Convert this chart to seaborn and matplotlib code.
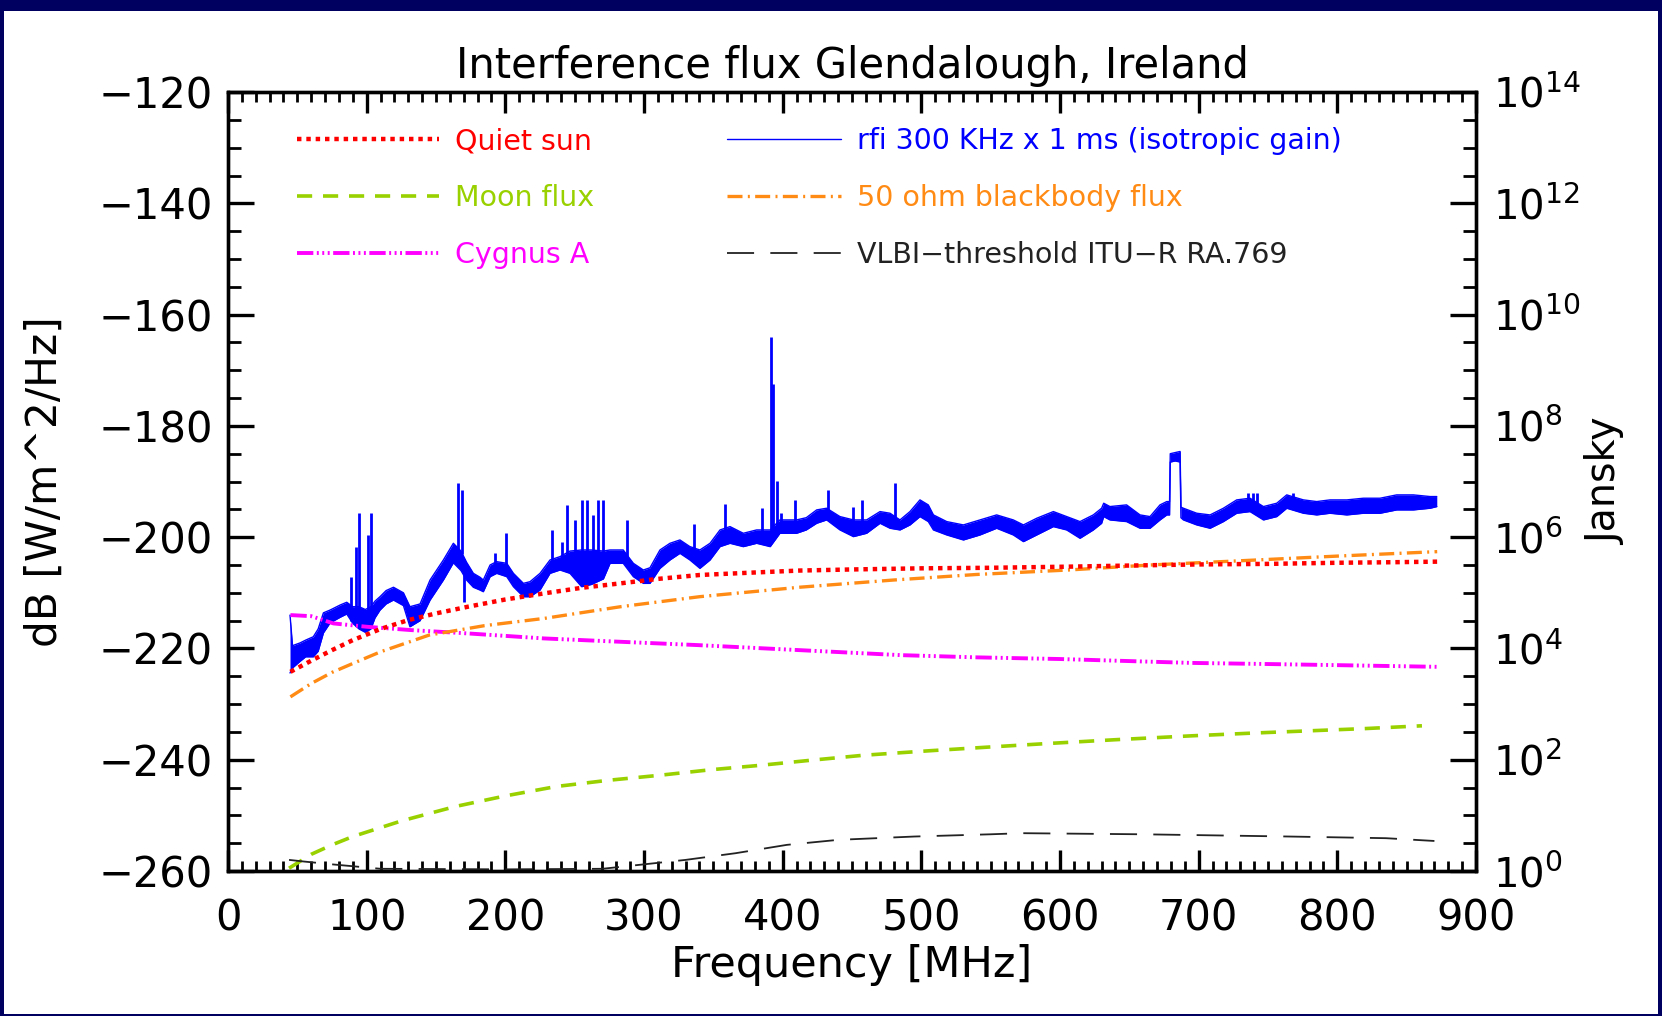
import numpy as np
import matplotlib
matplotlib.use("Agg")
import matplotlib.pyplot as plt
import seaborn as sns
from matplotlib.patches import Rectangle
from matplotlib.ticker import FixedLocator, MultipleLocator, NullFormatter

# valeurs : frequence en MHz, flux en dB [W/m^2/Hz]
sun_freq = [45, 60, 75, 90, 110, 130, 150, 173, 200, 228, 255, 283, 310, 340, 375, 412,
            450, 500, 550, 606, 650, 700, 750, 800, 840, 872]
sun_db = [-224.2, -222.2, -220.3, -218.5, -216.5, -214.9, -213.7, -212.5, -211.2, -210.1,
          -209.1, -208.3, -207.5, -206.8, -206.4, -206.0, -205.8, -205.6, -205.5, -205.3,
          -205.1, -204.9, -204.8, -204.6, -204.5, -204.4]

moon_freq = [44, 60, 75, 90, 125, 164, 200, 237, 274, 311, 348, 384, 420, 458, 505, 550,
             590, 640, 695, 740, 780, 820, 861]
moon_db = [-259.5, -257.0, -255.3, -253.8, -251.0, -248.4, -246.5, -244.8, -243.7, -242.8,
           -241.8, -241.0, -240.1, -239.2, -238.4, -237.7, -237.1, -236.4, -235.7, -235.2,
           -234.8, -234.4, -233.9]

cyg_freq = [45, 60, 76, 100, 132, 173, 228, 283, 339, 412, 485, 540, 600, 695, 750, 800, 872]
cyg_db = [-214.0, -214.2, -215.5, -216.1, -216.7, -217.3, -218.2, -218.8, -219.4, -220.3,
          -221.2, -221.6, -221.9, -222.6, -222.8, -223.0, -223.3]

bb_freq = [45, 60, 75, 90, 110, 145, 185, 228, 283, 340, 412, 480, 540, 606, 665, 725,
           800, 872]
bb_db = [-228.7, -226.3, -224.3, -222.7, -220.6, -217.6, -215.9, -214.6, -212.5, -210.7,
         -209.0, -207.7, -206.7, -205.9, -205.0, -204.3, -203.4, -202.6]

vlbi_freq = [44, 55, 75, 97, 110, 200, 270, 300, 330, 366, 403, 440, 495, 550, 572, 660,
             765, 835, 870]
vlbi_db = [-258.0, -258.3, -258.8, -259.3, -259.6, -259.7, -259.6, -258.8, -258.0, -256.8,
           -255.3, -254.4, -253.8, -253.4, -253.2, -253.4, -253.8, -254.1, -254.6]

# rfi : bande basse / haute du signal mesure
rfi_freq = [44.7, 46.5, 52, 56, 61.5, 65, 68.8, 73.6, 80.8, 85.6, 90, 94.5, 99, 103, 106,
            109.6, 114, 119.3, 126.5, 131.2, 138.5, 145.7, 155.3, 162.5, 168, 172, 176.9,
            181.7, 184.1, 189, 193.7, 201, 205.8, 213, 217.8, 225, 232.2, 239.4, 246.6,
            255, 262, 270.7, 275.5, 285, 292.3, 299.5, 304.3, 311.5, 318.7, 325.9, 333.1,
            340.3, 347.6, 354.8, 362, 371.6, 381.2, 391, 398, 410, 417, 424.5, 431.7,
            441.3, 451, 460.5, 470.2, 477.4, 484.6, 491.8, 499, 505, 508.7, 518.3, 530.3,
            542.3, 554.3, 566.3, 573.6, 583.2, 595.2, 604.8, 614.4, 624, 630, 631.5, 636,
            648, 657.7, 664.9, 672.1, 677, 679.0, 679.5, 683, 686.6, 687.2, 689, 698.6,
            708.2, 717.8, 727.4, 737, 746.7, 756.3, 763.5, 775.5, 785.1, 794.7, 806.8,
            818.8, 830.8, 842.8, 854.8, 866.9, 871.7]
rfi_lo = [-224.4, -223.5, -222.3, -221.5, -221.5, -220.5, -217.2, -215.4, -214.4, -213.8,
          -215.5, -216.5, -217.1, -216.5, -214.5, -213.1, -212.0, -211.3, -212.3, -216.1,
          -215.0, -211.3, -207.7, -204.6, -206.0, -207.7, -209.0, -209.5, -209.8, -207.1,
          -206.5, -207.1, -208.9, -210.7, -210.7, -209.5, -206.5, -205.9, -206.5, -208.9,
          -208.5, -207.5, -204.7, -204.7, -207.1, -208.3, -208.3, -205.6, -204.1, -202.9,
          -204.1, -205.6, -204.1, -201.7, -201.1, -201.7, -201.1, -201.7, -199.3, -199.3,
          -198.7, -197.5, -196.9, -198.7, -199.9, -199.3, -197.5, -198.4, -198.7, -197.8,
          -196.3, -197.2, -198.7, -199.6, -200.5, -199.6, -198.4, -199.6, -200.8, -199.6,
          -198.1, -198.7, -200.2, -198.7, -197.5, -196.3, -196.9, -197.2, -198.4, -198.4,
          -196.9, -196.0, -196.0, -186.5, -186.3, -186.5, -196.5, -196.9, -197.8, -198.4,
          -197.2, -195.7, -195.4, -196.9, -196.3, -194.8, -195.7, -196.0, -195.7, -196.0,
          -195.7, -195.7, -195.1, -195.1, -194.8, -194.5]
rfi_hi = [-214.0, -219.5, -219.0, -218.5, -217.9, -216.5, -213.6, -213.1, -212.2, -211.7,
          -212.5, -212.5, -213.0, -212.5, -211.5, -210.7, -209.6, -209.0, -210.0, -212.5,
          -212.0, -207.7, -204.1, -201.1, -202.5, -204.5, -206.5, -207.2, -207.7, -205.0,
          -204.4, -204.7, -206.5, -208.3, -208.0, -206.5, -204.1, -203.5, -202.5, -202.3,
          -202.3, -202.5, -202.3, -202.3, -204.7, -205.9, -205.5, -202.3, -201.1, -200.5,
          -201.7, -202.3, -201.1, -198.7, -198.1, -199.3, -198.7, -198.7, -196.9, -196.9,
          -196.5, -195.1, -194.8, -196.3, -196.9, -196.9, -195.4, -195.7, -196.9, -195.4,
          -193.3, -194.2, -196.0, -197.2, -197.8, -196.9, -196.0, -196.9, -197.8, -196.6,
          -195.4, -196.3, -197.2, -196.0, -194.8, -193.9, -194.5, -194.2, -196.0, -196.3,
          -194.2, -193.6, -193.6, -185.0, -184.8, -184.6, -194.6, -194.8, -195.7, -196.0,
          -194.8, -193.3, -193.0, -194.5, -193.9, -192.4, -193.3, -193.6, -193.3, -193.3,
          -193.0, -193.0, -192.4, -192.4, -192.7, -192.7]

# raies d'interference (pics)
spike_freq = [89, 92.5, 94.5, 101, 103, 166, 168.5, 170, 192.5, 200.2, 233.4, 240.6, 244.2,
              250, 255, 258.6, 263, 267, 270.7, 287.5, 336, 358.4, 384.8, 391.6, 393.2,
              395.6, 398.5, 409, 433, 451, 457, 481, 735.8, 739.5, 742, 768.3]
spike_lo = [-215.0, -216.0, -216.0, -216.0, -216.0, -203.0, -203.0, -211.6, -205.5, -206.0,
            -205.0, -204.5, -204.0, -205.0, -205.0, -205.0, -205.0, -205.0, -205.0, -203.5,
            -203.0, -200.0, -200.0, -200.0, -200.0, -198.5, -198.0, -198.0, -196.0, -198.0,
            -198.0, -197.0, -194.5, -194.5, -194.5, -194.0]
spike_hi = [-207.2, -201.8, -195.7, -199.6, -195.7, -190.2, -191.5, -204.0, -202.9, -199.2,
            -198.7, -200.8, -194.2, -197.0, -193.3, -193.3, -196.0, -193.3, -193.3, -196.9,
            -197.6, -194.0, -194.8, -164.1, -172.4, -189.9, -195.6, -193.3, -191.5, -194.5,
            -193.3, -190.2, -192.0, -192.0, -192.0, -192.0]

labels_left = ["Quiet sun", "Moon flux", "Cygnus A"]
labels_right = ["rfi 300 KHz x 1 ms (isotropic gain)", "50 ohm blackbody flux",
                "VLBI\u2212threshold ITU\u2212R RA.769"]

sns.set_style("white")
plt.rcParams["font.family"] = ["DejaVu Sans"]
plt.rcParams["mathtext.fontset"] = "dejavusans"
plt.rcParams["text.color"] = "black"
plt.rcParams["axes.labelcolor"] = "black"
plt.rcParams["xtick.color"] = "black"
plt.rcParams["ytick.color"] = "black"
plt.rcParams["axes.edgecolor"] = "black"

fig = plt.figure(figsize=(16.62, 10.16), dpi=100, facecolor="#000060")
# cadre blanc a l'interieur de la bordure bleu marine
fig.add_artist(Rectangle((4 / 1662, 2 / 1016), 1 - 8 / 1662, 1 - 13 / 1016,
                         transform=fig.transFigure, facecolor="white",
                         edgecolor="none", zorder=-5))
ax = fig.add_axes([0.1372, 0.1427, 0.7509, 0.7667])
ax.set_facecolor("white")

# bande rfi + pics
ax.fill_between(rfi_freq, rfi_lo, rfi_hi, color="#0000ff", linewidth=0, zorder=2)
sns.lineplot(x=rfi_freq, y=rfi_lo, ax=ax, color="#0000ff", lw=1.0, zorder=2)
sns.lineplot(x=rfi_freq, y=rfi_hi, ax=ax, color="#0000ff", lw=1.0, zorder=2)
ax.vlines(spike_freq, spike_lo, spike_hi, color="#0000ff", lw=2.0, zorder=2)

sns.lineplot(x=cyg_freq, y=cyg_db, ax=ax, color="#ff00ff", lw=2.8,
             linestyle=(0, (4.2, 0.9, 0.5, 0.9, 0.5, 0.9, 0.5, 0.9)), zorder=3)
sns.lineplot(x=bb_freq, y=bb_db, ax=ax, color="#ff8a14", lw=2.4,
             linestyle=(0, (4.5, 1.6, 0.6, 1.6)), zorder=3)
sns.lineplot(x=moon_freq, y=moon_db, ax=ax, color="#99d100", lw=2.6,
             linestyle=(0, (4.2, 3.0)), zorder=3)
sns.lineplot(x=vlbi_freq, y=vlbi_db, ax=ax, color="#222222", lw=1.3,
             linestyle=(0, (15, 9)), zorder=3)
sns.lineplot(x=sun_freq, y=sun_db, ax=ax, color="#ff0000", lw=3.2,
             linestyle=(0, (1, 1.1)), zorder=4)

lines = ax.get_lines()
# ordre : rfi_lo, rfi_hi, cyg, bb, moon, vlbi, sun
h_rfi, h_cyg, h_bb, h_moon, h_vlbi, h_sun = lines[0], lines[2], lines[3], lines[4], lines[5], lines[6]

ax.set_xlim(0, 900)
ax.set_ylim(-260, -120)
ax.xaxis.set_major_locator(MultipleLocator(100))
ax.xaxis.set_minor_locator(MultipleLocator(10))
ax.yaxis.set_major_locator(MultipleLocator(20))
ax.yaxis.set_minor_locator(MultipleLocator(5))
ax.set_yticks(np.arange(-260, -119, 20),
              ["\u2212" + str(abs(v)) for v in range(-260, -119, 20)])

ax.tick_params(axis="x", which="major", direction="in", length=15, width=2.4,
               top=True, bottom=True, labelsize=30, pad=19)
ax.tick_params(axis="x", which="minor", direction="in", length=7.5, width=2.0,
               top=True, bottom=True)
ax.tick_params(axis="y", which="major", direction="in", length=19, width=2.4,
               left=True, right=False, labelsize=30, pad=11)
ax.tick_params(axis="y", which="minor", direction="in", length=9.5, width=2.0,
               left=True, right=False)
for s in ax.spines.values():
    s.set_linewidth(2.4)
    s.set_color("black")

ax.set_xlabel("Frequency [MHz]", fontsize=31)
ax.xaxis.set_label_coords(0.5, -0.121)
ax.xaxis.label.set_va("center")
ax.set_ylabel("dB [W/m^2/Hz]", fontsize=30.5)
ax.yaxis.set_label_coords(-0.147, 0.5)
ax.yaxis.label.set_va("center")
ax.set_title("Interference flux Glendalough, Ireland", fontsize=30, pad=10)

# axe de droite en Jansky
ax2 = ax.twinx()
ax2.set_yscale("log")
ax2.set_ylim(1, 1e14)
ax2.yaxis.set_major_locator(FixedLocator(10.0 ** np.arange(0, 15, 2)))
ax2.yaxis.set_minor_locator(FixedLocator(10.0 ** np.arange(0.5, 14, 0.5)))
ax2.yaxis.set_minor_formatter(NullFormatter())
ax2.set_yticks(10.0 ** np.arange(0, 15, 2), [f"$10^{{{k}}}$" for k in range(0, 15, 2)])
ax2.tick_params(axis="y", which="major", direction="in", length=19, width=2.4,
                labelsize=29, pad=12)
ax2.tick_params(axis="y", which="minor", direction="in", length=9.5, width=2.0)
ax2.set_ylabel("Jansky", fontsize=28.5)
ax2.yaxis.set_label_coords(1.104, 0.5)
ax2.yaxis.label.set_va("center")
for s in ax2.spines.values():
    s.set_linewidth(2.4)
    s.set_color("black")

leg_kw = dict(loc="upper left", frameon=False, fontsize=20.5, handletextpad=0.55,
              labelspacing=1.02, borderpad=0, borderaxespad=0, labelcolor="linecolor")
leg1 = ax2.legend([h_sun, h_moon, h_cyg], labels_left, bbox_to_anchor=(0.055, 0.955),
                  handlelength=5.0, **leg_kw)
ax2.add_artist(leg1)
ax2.legend([h_rfi, h_bb, h_vlbi], labels_right, bbox_to_anchor=(0.4, 0.955),
           handlelength=4.0, **leg_kw)

fig.savefig("out.png", dpi=100, facecolor=fig.get_facecolor())
